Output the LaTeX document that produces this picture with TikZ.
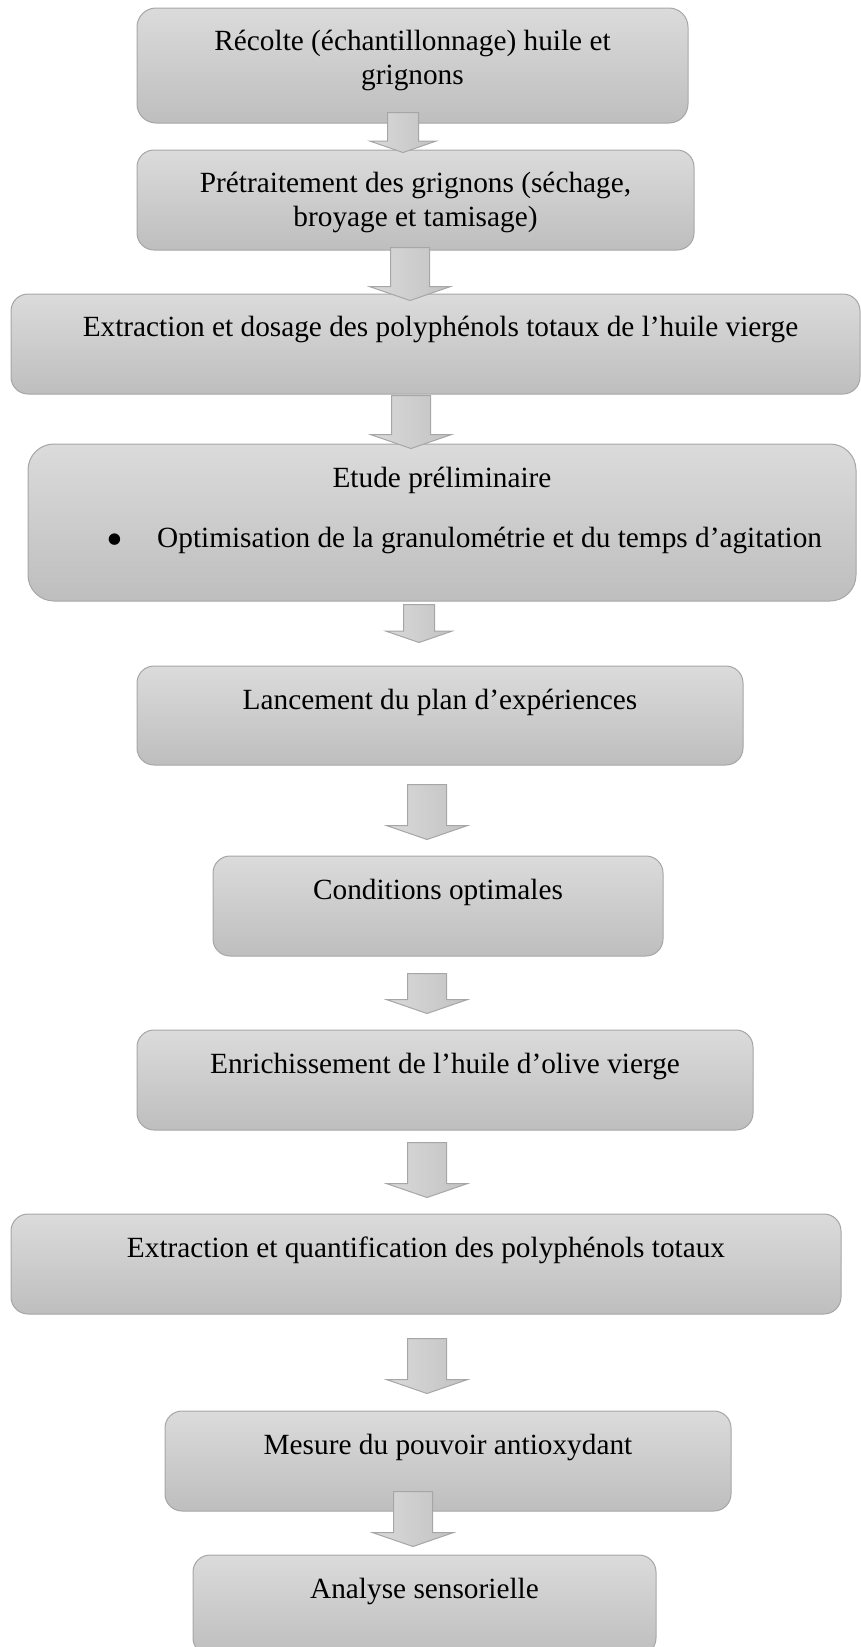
\documentclass[tikz,border=0pt]{standalone}
\usepackage{fontspec}
\setmainfont{Liberation Serif}
\usetikzlibrary{shapes.arrows}
\definecolor{boxtop}{RGB}{219,219,219}
\definecolor{boxbottom}{RGB}{190,190,190}
\definecolor{boxline}{RGB}{166,166,166}
\definecolor{arrowtop}{RGB}{218,218,218}
\definecolor{arrowbottom}{RGB}{194,194,194}
\tikzset{
    stepbox/.style={
        draw=boxline,
        line width=1pt,
        rounded corners=17pt,
        top color=boxtop,
        bottom color=boxbottom},
    steptext/.style={
        anchor=base,
        align=center,
        inner sep=0pt,
        font=\fontsize{29.3}{34}\selectfont},
    downarrow/.style={
        single arrow,
        draw=boxline,
        line width=1pt,
        rotate=-90,
        anchor=tail,
        left color=arrowtop,
        right color=arrowbottom,
        inner xsep=0pt,
        inner ysep=19pt,
        single arrow head extend=21pt,
        single arrow tip angle=142},
    smallarrow/.style={
        inner ysep=15pt,
        single arrow head extend=17.5pt}}

\begin{document}
\begin{tikzpicture}[x=1pt,y=-1pt]
        \useasboundingbox (0,0) rectangle (861,1647);

        % boxes
        \node[stepbox, minimum width=551pt, minimum height=115pt, rounded corners=19pt] (recolte) at (412.5,65.5) {};
        \node[stepbox, minimum width=557pt, minimum height=100pt] (pretraitement) at (415.5,200) {};
        \node[stepbox, minimum width=849pt, minimum height=100pt] (extraction) at (435.5,344) {};
        \node[stepbox, minimum width=828pt, minimum height=157pt, rounded corners=26pt] (etude) at (442,522.5) {};
        \node[stepbox, minimum width=606pt, minimum height=99pt] (lancement) at (440,715.5) {};
        \node[stepbox, minimum width=450pt, minimum height=100pt] (conditions) at (438,906) {};
        \node[stepbox, minimum width=616pt, minimum height=100pt] (enrichissement) at (445,1080) {};
        \node[stepbox, minimum width=830pt, minimum height=100pt] (quantification) at (426,1264) {};
        \node[stepbox, minimum width=566pt, minimum height=100pt] (mesure) at (448,1461) {};
        \node[stepbox, minimum width=463pt, minimum height=100pt] (analyse) at (424.5,1605) {};

        % texts
        \node[steptext] (recolte-text) at ([yshift=-77pt]recolte.north) {R\'ecolte (\'echantillonnage) huile et\\grignons};
        \node[steptext] (pretraitement-text) at ([yshift=-77pt]pretraitement.north) {Pr\'etraitement des grignons (s\'echage,\\broyage et tamisage)};
        \node[steptext] (extraction-text) at ([xshift=5pt,yshift=-43pt]extraction.north) {Extraction et dosage des polyph\'enols totaux de l’huile vierge};
        \node[steptext] (etude-text) at ([yshift=-44pt]etude.north) {Etude pr\'eliminaire};
        \node[steptext, anchor=base west] (etude-item) at (106,547) {\makebox[51pt][l]{\raisebox{-8pt}{\fontsize{48}{34}\selectfont\textbullet}}Optimisation de la granulom\'etrie et du temps d’agitation};
        \node[steptext] (lancement-text) at ([yshift=-44pt]lancement.north) {Lancement du plan d’exp\'eriences};
        \node[steptext] (conditions-text) at ([yshift=-44pt]conditions.north) {Conditions optimales};
        \node[steptext] (enrichissement-text) at ([yshift=-44pt]enrichissement.north) {Enrichissement de l’huile d’olive vierge};
        \node[steptext] (quantification-text) at ([yshift=-44pt]quantification.north) {Extraction et quantification des polyph\'enols totaux};
        \node[steptext] (mesure-text) at ([yshift=-44pt]mesure.north) {Mesure du pouvoir antioxydant};
        \node[steptext] (analyse-text) at ([yshift=-44pt]analyse.north) {Analyse sensorielle};

        % arrows
        \node[downarrow, smallarrow, minimum height=40pt] (a1) at (403,112) {};
        \node[downarrow, minimum height=53pt] (a2) at (410,247) {};
        \node[downarrow, minimum height=53pt] (a3) at (411,395) {};
        \node[downarrow, smallarrow, minimum height=38pt] (a4) at (419,604) {};
        \node[downarrow, minimum height=55pt] (a5) at (427,784) {};
        \node[downarrow, minimum height=40pt] (a6) at (427,973) {};
        \node[downarrow, minimum height=55pt] (a7) at (427,1142) {};
        \node[downarrow, minimum height=55pt] (a8) at (427,1338) {};
        \node[downarrow, minimum height=55pt] (a9) at (413,1491) {};
    \end{tikzpicture}
\end{document}
